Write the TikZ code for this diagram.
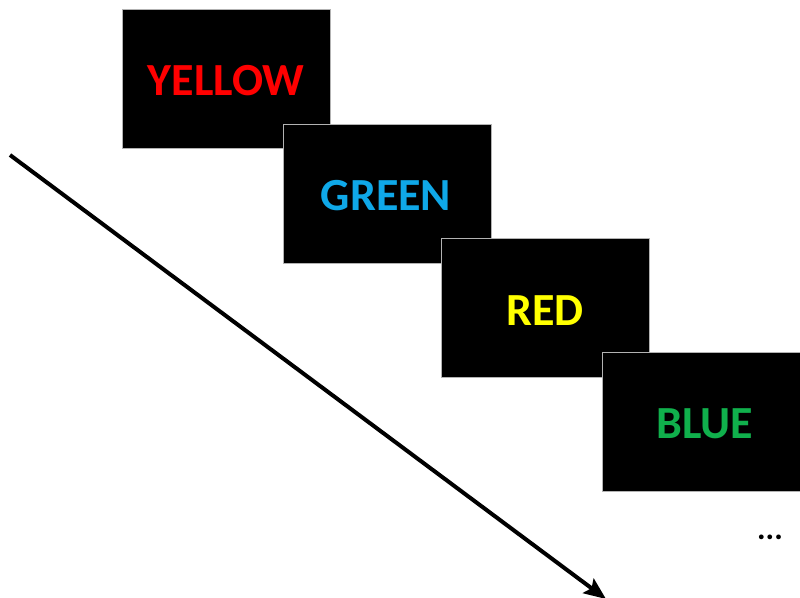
\documentclass[tikz,border=0pt]{standalone}
\usepackage{fontspec}
\setmainfont{Carlito}
\usetikzlibrary{arrows.meta}
\definecolor{wred}{HTML}{FF0000}
\definecolor{wblue}{HTML}{0FA8E8}
\definecolor{wyellow}{HTML}{FFFF00}
\definecolor{wgreen}{HTML}{10B04C}
\tikzset{
  card/.style={fill=black, draw=gray!60, line width=0.8pt, minimum width=208pt, minimum height=139pt, inner sep=0pt},
  word/.style={font=\bfseries\fontsize{46}{46}\selectfont, inner sep=0pt},
  timeline/.style={line width=4pt, -{Stealth[length=22pt, width=18pt, inset=4pt]}}
}
\begin{document}
\begin{tikzpicture}[x=1pt, y=-1pt]
\useasboundingbox (0,0) rectangle (800,597);
\node[card] (c1) at (226,78.5) {};
\node[card] (c2) at (387,193.5) {};
\node[card] (c3) at (545,307.5) {};
\node[card] (c4) at (706,421.5) {};
\node[word, text=wred] (t1) at (226,80.5) {YELLOW};
\node[word, text=wblue] (t2) at (386,196) {GREEN};
\node[word, text=wyellow] (t3) at (545,311) {RED};
\node[word, text=wgreen] (t4) at (705,424) {BLUE};
\node[font=\bfseries\fontsize{32}{32}\selectfont, inner sep=0pt] (dots) at (770,537) {...};
\coordinate (s) at (10,155);
\coordinate (e) at (606,599);
\draw[timeline] (s) -- (e);
\end{tikzpicture}
\end{document}
